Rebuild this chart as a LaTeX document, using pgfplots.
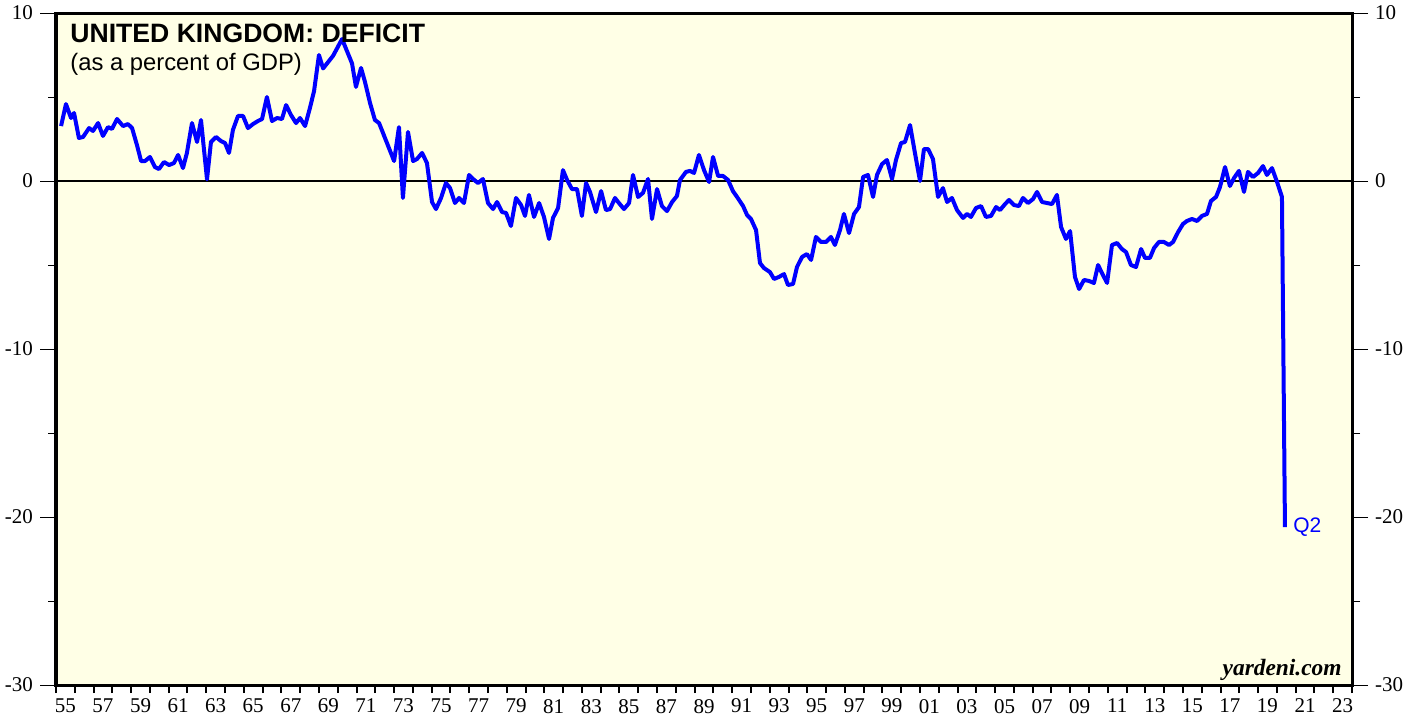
\documentclass[border=0pt]{standalone}
\usepackage{fontspec}
\setmainfont{Liberation Serif}
\newfontfamily\arial{Liberation Sans}
\usepackage{pgfplots}
\usepackage{pgfplotstable}
\pgfplotsset{compat=1.18}
\definecolor{bgyellow}{RGB}{255,255,230}
\definecolor{lineblue}{RGB}{0,0,255}

\pgfplotstableread{
year val
1955.27 3.27
1955.53 4.58
1955.80 3.75
1955.96 4.05
1956.22 2.56
1956.44 2.62
1956.76 3.15
1956.97 2.98
1957.24 3.45
1957.50 2.68
1957.77 3.21
1957.98 3.10
1958.25 3.69
1958.57 3.27
1958.83 3.39
1959.05 3.15
1959.31 2.14
1959.53 1.19
1959.74 1.19
1960.00 1.43
1960.27 0.83
1960.48 0.71
1960.75 1.13
1961.02 0.95
1961.28 1.07
1961.50 1.55
1961.76 0.77
1961.97 1.67
1962.24 3.45
1962.51 2.32
1962.72 3.63
1963.04 0.10
1963.25 2.32
1963.52 2.62
1963.78 2.38
1964.00 2.26
1964.21 1.67
1964.42 3.04
1964.69 3.87
1964.96 3.87
1965.22 3.15
1965.49 3.39
1965.75 3.57
1965.97 3.69
1966.23 5.00
1966.50 3.57
1966.77 3.75
1967.03 3.69
1967.25 4.52
1967.51 3.93
1967.78 3.45
1967.99 3.75
1968.26 3.27
1968.52 4.35
1968.74 5.36
1969.00 7.50
1969.22 6.70
1969.75 7.45
1970.23 8.45
1970.76 7.00
1970.97 5.60
1971.24 6.73
1971.45 5.90
1971.72 4.64
1971.98 3.63
1972.20 3.45
1973.00 1.19
1973.26 3.21
1973.47 -1.01
1973.74 2.92
1974.01 1.19
1974.22 1.31
1974.49 1.67
1974.75 1.07
1975.02 -1.25
1975.23 -1.67
1975.50 -1.01
1975.76 -0.12
1975.98 -0.42
1976.24 -1.31
1976.46 -1.01
1976.72 -1.31
1976.99 0.36
1977.20 0.12
1977.47 -0.12
1977.73 0.12
1978.00 -1.31
1978.27 -1.67
1978.48 -1.25
1978.75 -1.85
1978.96 -1.90
1979.22 -2.68
1979.49 -1.01
1979.76 -1.43
1979.97 -2.08
1980.18 -0.83
1980.45 -2.14
1980.72 -1.31
1980.98 -2.14
1981.25 -3.45
1981.46 -2.20
1981.73 -1.61
1981.99 0.65
1982.21 0.06
1982.47 -0.48
1982.74 -0.48
1983.00 -2.08
1983.22 -0.12
1983.43 -0.65
1983.75 -1.85
1984.02 -0.60
1984.28 -1.73
1984.50 -1.67
1984.76 -1.01
1984.97 -1.31
1985.24 -1.67
1985.51 -1.31
1985.72 0.36
1985.99 -0.95
1986.25 -0.71
1986.52 0.12
1986.73 -2.26
1987.00 -0.48
1987.26 -1.49
1987.53 -1.79
1987.80 -1.25
1988.06 -0.89
1988.22 0.06
1988.54 0.54
1988.75 0.60
1988.97 0.48
1989.23 1.55
1989.50 0.65
1989.77 -0.06
1989.98 1.43
1990.25 0.30
1990.51 0.30
1990.78 0.06
1991.04 -0.60
1991.26 -0.95
1991.58 -1.49
1991.79 -2.02
1992.00 -2.26
1992.27 -2.92
1992.48 -4.88
1992.69 -5.18
1993.01 -5.42
1993.23 -5.83
1993.49 -5.71
1993.76 -5.54
1993.97 -6.19
1994.24 -6.13
1994.45 -5.12
1994.72 -4.52
1994.98 -4.35
1995.20 -4.70
1995.46 -3.33
1995.73 -3.63
1996.00 -3.63
1996.26 -3.33
1996.47 -3.81
1996.74 -2.92
1996.95 -1.96
1997.22 -3.10
1997.49 -1.96
1997.75 -1.55
1997.97 0.24
1998.23 0.36
1998.50 -0.95
1998.71 0.36
1998.98 1.01
1999.24 1.25
1999.51 0.12
1999.72 1.25
1999.99 2.26
2000.20 2.32
2000.47 3.33
2000.73 1.67
2001.00 0.00
2001.21 1.90
2001.43 1.90
2001.69 1.31
2001.96 -0.95
2002.22 -0.42
2002.44 -1.25
2002.70 -1.01
2002.97 -1.73
2003.29 -2.20
2003.50 -1.96
2003.71 -2.14
2003.98 -1.61
2004.25 -1.49
2004.51 -2.14
2004.78 -2.08
2005.05 -1.55
2005.26 -1.73
2005.53 -1.37
2005.74 -1.13
2006.00 -1.43
2006.27 -1.49
2006.48 -1.01
2006.75 -1.31
2007.02 -1.07
2007.23 -0.65
2007.50 -1.25
2007.76 -1.31
2008.03 -1.37
2008.29 -0.83
2008.51 -2.74
2008.77 -3.45
2008.99 -2.98
2009.25 -5.71
2009.47 -6.43
2009.73 -5.89
2010.00 -5.95
2010.26 -6.07
2010.48 -5.00
2010.74 -5.60
2010.96 -6.07
2011.22 -3.81
2011.49 -3.69
2011.75 -4.05
2011.97 -4.23
2012.23 -5.00
2012.50 -5.12
2012.77 -4.05
2012.98 -4.58
2013.24 -4.58
2013.46 -3.99
2013.72 -3.63
2013.99 -3.63
2014.26 -3.81
2014.47 -3.63
2014.74 -3.04
2015.00 -2.56
2015.21 -2.38
2015.48 -2.26
2015.75 -2.38
2016.01 -2.08
2016.28 -1.96
2016.49 -1.19
2016.76 -0.95
2016.97 -0.36
2017.24 0.83
2017.50 -0.30
2017.72 0.18
2017.98 0.60
2018.25 -0.65
2018.46 0.54
2018.73 0.24
2019.00 0.48
2019.26 0.89
2019.47 0.36
2019.74 0.77
2020.01 -0.06
2020.27 -0.95
2020.43 -20.6
}\ukdef

\begin{document}
\begin{tikzpicture}
\begin{axis}[
  name=main,
  scale only axis, width=648pt, height=336pt,
  xmin=1955, xmax=2024, ymin=-30, ymax=10,
  axis background/.style={fill=bgyellow},
  axis line style={line width=1.5pt},
  tick align=outside,
  xtick={1955.5,1957.5,1959.5,1961.5,1963.5,1965.5,1967.5,1969.5,1971.5,1973.5,1975.5,1977.5,1979.5,1981.5,1983.5,1985.5,1987.5,1989.5,1991.5,1993.5,1995.5,1997.5,1999.5,2001.5,2003.5,2005.5,2007.5,2009.5,2011.5,2013.5,2015.5,2017.5,2019.5,2021.5,2023.5},
  xticklabels={55,57,59,61,63,65,67,69,71,73,75,77,79,81,83,85,87,89,91,93,95,97,99,01,03,05,07,09,11,13,15,17,19,21,23},
  major x tick style={draw=none},
  minor xtick={1955,1956,...,2024},
  minor x tick style={line width=1pt},
  xtick pos=left,
  xticklabel shift=-4.5pt,
  ytick={-30,-20,-10,0,10},
  yticklabels={-30,-20,-10,0,10},
  minor ytick={-25,-15,-5,5},
  ytick pos=left,
  major tick length=8pt,
  minor tick length=4pt,
  tick style={black, line width=0.5pt},
  ticklabel style={font=\fontsize{10.5}{12}\selectfont},
]
\addplot[black, line width=0.6pt] coordinates {(1955,0) (2024,0)};
\addplot[lineblue, line width=2pt, line join=round] table[x=year, y=val] {\ukdef};
\node[anchor=base west, inner sep=0, font=\arial\bfseries\fontsize{13.3}{16}\selectfont] at (rel axis cs:0.0108,0.9568) {UNITED KINGDOM: DEFICIT};
\node[anchor=base west, inner sep=0, font=\arial\fontsize{11.9}{14}\selectfont] at (rel axis cs:0.0108,0.915) {(as a percent of GDP)};
\node[anchor=base east, inner sep=0, font=\bfseries\itshape\fontsize{11.7}{14}\selectfont] at (rel axis cs:0.9923,0.0149) {yardeni.com};
\node[anchor=west, inner sep=0, xshift=4pt, text=lineblue, font=\arial\fontsize{10.5}{12}\selectfont] at (axis cs:2020.43,-20.6) {Q2};
\end{axis}
\begin{axis}[
  scale only axis, width=648pt, height=336pt,
  xmin=1955, xmax=2024, ymin=-30, ymax=10,
  hide x axis,
  axis line style={line width=1.5pt},
  tick align=outside,
  ytick={-30,-20,-10,0,10},
  yticklabels={-30,-20,-10,0,10},
  minor ytick={-25,-15,-5,5},
  ytick pos=right, yticklabel pos=right,
  major tick length=8pt,
  minor tick length=4pt,
  tick style={black, line width=0.5pt},
  ticklabel style={font=\fontsize{10.5}{12}\selectfont},
]
\addplot[draw=none] coordinates {(1960,0)};
\end{axis}
\pgfresetboundingbox
\path ([xshift=-28pt,yshift=-17pt]main.south west) rectangle ([xshift=33.5pt,yshift=6.5pt]main.north east);
\end{tikzpicture}
\end{document}
